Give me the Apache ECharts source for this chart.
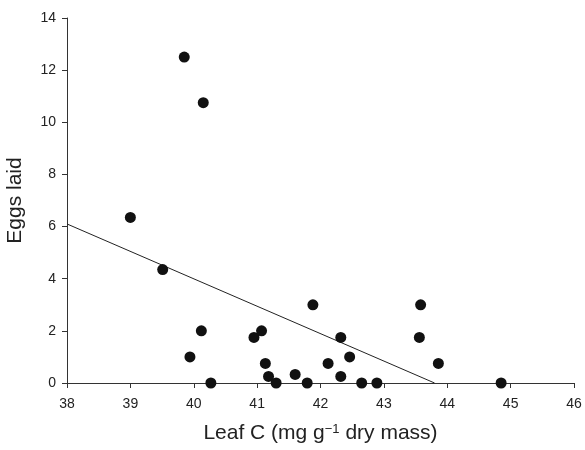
<!DOCTYPE html>
<html>
<head>
<meta charset="utf-8">
<script src="https://cdn.jsdelivr.net/npm/echarts@6/dist/echarts.min.js"></script>
<style>
  html, body { margin: 0; padding: 0; background: #fff; }
  #chart { width: 585px; height: 450px; }
</style>
</head>
<body>
<div id="chart"></div>
<script>
// leaf C (x) against eggs laid (y), one entry per plant
const leafC = [39.0, 39.51, 39.85, 40.15, 39.94, 40.12, 40.27, 40.95, 41.07, 41.13,
  41.18, 41.30, 41.60, 41.79, 41.88, 42.12, 42.32, 42.32, 42.46, 42.65,
  42.89, 43.58, 43.56, 43.86, 44.85]
const eggsLaid = [6.35, 4.35, 12.5, 10.75, 1.0, 2.0, 0, 1.75, 2.0, 0.75,
  0.25, 0, 0.33, 0, 3.0, 0.75, 1.75, 0.25, 1.0, 0,
  0, 3.0, 1.75, 0.75, 0]
// fitted regression line, end points
const fitX = [38, 43.8]
const fitY = [6.1, 0]
const xTicks = [38, 46, 1]
const yTicks = [0, 14, 2]

const chart = echarts.init(document.getElementById('chart'))
const font = 'Liberation Sans, Arial, sans-serif'

const axisCommon = {
  axisLine: { show: true, lineStyle: { color: '#333', width: 1 } },
  axisTick: { show: true, inside: false, length: 5, lineStyle: { color: '#333' } },
  splitLine: { show: false },
  nameLocation: 'middle',
}

const option = {
  backgroundColor: '#fff',
  animation: false,
  // fixed plot box, no auto shrinking for labels
  grid: { left: 67, right: 11, top: 18, bottom: 67, containLabel: false, outerBoundsMode: 'none' },
  xAxis: Object.assign({}, axisCommon, {
    type: 'value',
    min: xTicks[0], max: xTicks[1], interval: xTicks[2],
    axisLabel: { color: '#222', fontSize: 14, fontFamily: font, margin: 14 },
    name: 'Leaf C (mg g{sup|−1} dry mass)',
    nameGap: 40,
    nameTextStyle: {
      color: '#222', fontSize: 21, fontFamily: font,
      rich: { sup: { fontSize: 13, fontFamily: font, color: '#222', verticalAlign: 'top', padding: [0, 0, 8, 0] } },
    },
  }),
  yAxis: Object.assign({}, axisCommon, {
    type: 'value',
    min: yTicks[0], max: yTicks[1], interval: yTicks[2],
    axisLabel: { color: '#222', fontSize: 14, fontFamily: font, margin: 11 },
    name: 'Eggs laid',
    nameGap: 41,
    nameTextStyle: { color: '#222', fontSize: 21, fontFamily: font },
  }),
  series: [
    {
      type: 'line',
      data: fitX.map((x, i) => [x, fitY[i]]),
      symbol: 'none',
      lineStyle: { color: '#222', width: 1 },
      z: 2,
    },
    {
      type: 'scatter',
      data: leafC.map((x, i) => [x, eggsLaid[i]]),
      symbolSize: 11,
      itemStyle: { color: '#111', opacity: 1 },
      z: 3,
    },
  ],
}
chart.setOption(option)
</script>
</body>
</html>
